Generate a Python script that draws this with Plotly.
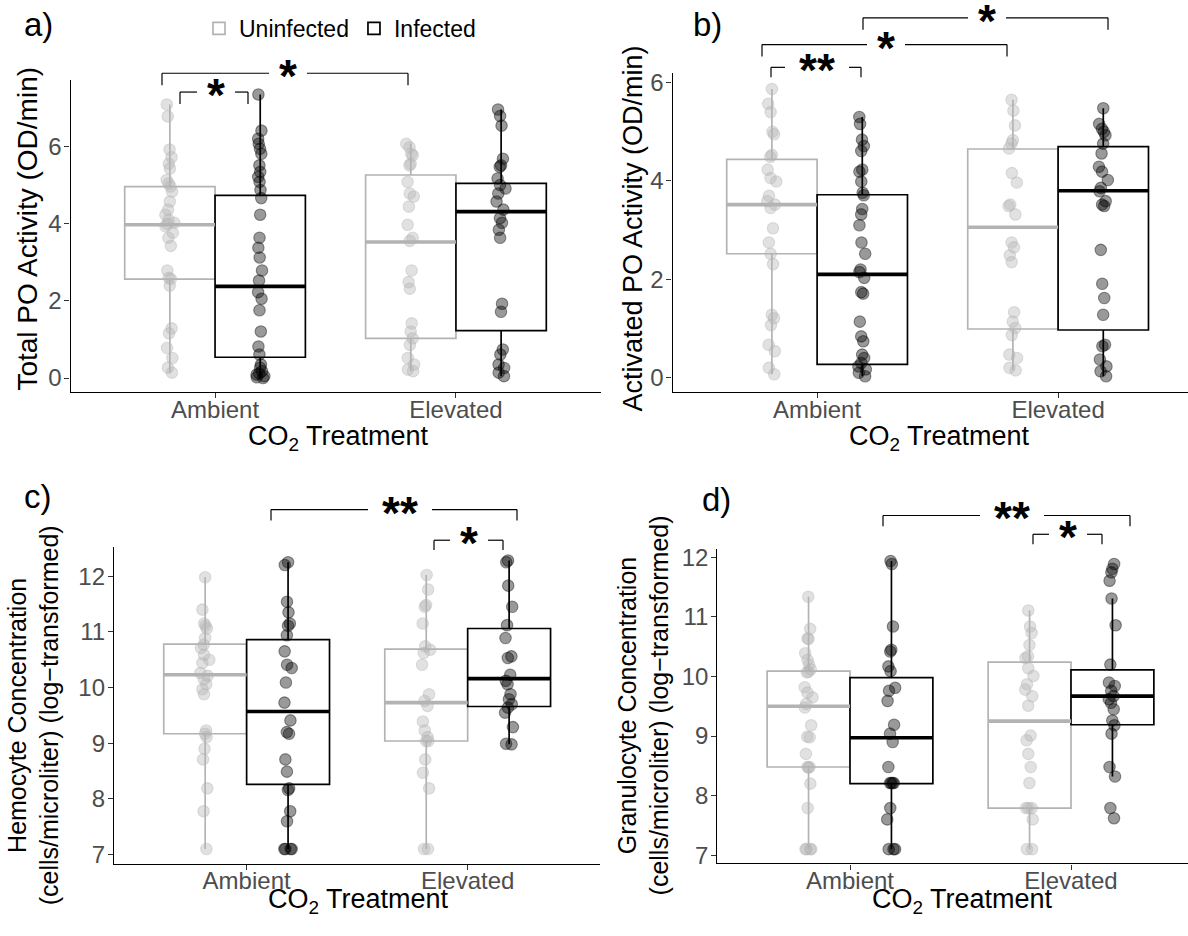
import plotly.graph_objects as go

W, H = 1188, 936
FONT = "Liberation Sans, Arial, Helvetica, sans-serif"

categories = ["Ambient", "Elevated"]
groups = ["Uninfected", "Infected"]

# ---------------- Panel a: Total PO Activity ----------------
a_amb_uninf = [7.10, 6.79, 5.93, 5.73, 5.56, 5.44, 5.14, 5.05, 4.97, 4.84, 4.58, 4.37, 4.24, 4.11,
               4.03, 4.00, 3.94, 3.77, 3.64, 3.43, 2.79, 2.60, 2.57, 2.40, 1.29, 1.16, 0.78, 0.52, 0.27, 0.14]
a_amb_inf = [7.36, 6.42, 6.21, 6.08, 5.95, 5.82, 5.52, 5.35, 5.22, 5.09, 4.88, 4.67, 4.24, 3.64, 3.38,
             3.13, 2.79, 2.53, 2.23, 2.06, 1.76, 1.21, 0.82, 0.61, 0.35, 0.27, 0.18, 0.12, 0.09, 0.05, 0.02, 0.0]
a_elev_uninf = [6.08, 5.99, 5.82, 5.78, 5.56, 5.52, 5.09, 4.79, 4.71, 4.45, 3.98, 3.64, 3.56, 2.79, 2.49,
                2.32, 1.42, 1.21, 1.03, 0.86, 0.52, 0.35, 0.22, 0.18]
a_elev_inf = [6.97, 6.80, 6.55, 5.69, 5.52, 5.48, 5.18, 5.01, 4.92, 4.79, 4.58, 4.37, 4.15, 4.03, 3.85,
              3.64, 1.93, 1.72, 0.74, 0.61, 0.35, 0.26, 0.14, 0.05]
# box stats in order: amb-uninf, amb-inf, elev-uninf, elev-inf
a_low = [0.14, 0.00, 0.18, 0.05]
a_q1 = [2.57, 0.54, 1.03, 1.23]
a_med = [3.98, 2.38, 3.53, 4.32]
a_q3 = [4.97, 4.74, 5.27, 5.05]
a_high = [7.10, 7.36, 6.08, 6.97]

# ---------------- Panel b: Activated PO Activity ----------------
b_amb_uninf = [5.87, 5.57, 5.40, 5.00, 4.95, 4.53, 4.49, 4.23, 4.06, 3.99, 3.70, 3.59, 3.52, 3.45, 3.04,
               2.75, 2.52, 2.31, 1.28, 1.21, 1.07, 0.67, 0.54, 0.20, 0.07]
b_amb_inf = [5.30, 5.16, 4.84, 4.71, 4.61, 4.23, 4.19, 3.99, 3.76, 3.71, 3.43, 3.32, 3.10, 2.75, 2.52,
             2.20, 2.15, 2.03, 1.74, 1.71, 1.14, 0.84, 0.74, 0.47, 0.40, 0.30, 0.23, 0.17, 0.10, 0.03]
b_elev_uninf = [5.65, 5.43, 5.13, 4.83, 4.76, 4.66, 4.16, 3.97, 3.52, 3.49, 3.32, 2.75, 2.65, 2.49, 2.35,
                1.33, 1.14, 1.01, 0.87, 0.47, 0.40, 0.20, 0.15]
b_elev_inf = [5.48, 5.16, 5.06, 5.00, 4.93, 4.76, 4.56, 4.29, 4.19, 4.02, 3.86, 3.79, 3.59, 3.52, 3.49,
              2.60, 1.91, 1.62, 1.28, 0.67, 0.64, 0.37, 0.23, 0.13, 0.03]
b_low = [0.07, 0.03, 0.15, 0.03]
b_q1 = [2.52, 0.27, 0.99, 0.97]
b_med = [3.52, 2.10, 3.06, 3.80]
b_q3 = [4.44, 3.72, 4.65, 4.70]
b_high = [5.87, 5.30, 5.65, 5.48]

# ---------------- Panel c: Hemocyte Concentration ----------------
c_amb_uninf = [11.98, 11.40, 11.15, 11.11, 11.06, 10.89, 10.77, 10.71, 10.59, 10.50, 10.44, 10.26, 10.21,
               10.15, 10.06, 9.97, 9.88, 9.23, 9.17, 9.11, 8.90, 8.71, 8.19, 7.78, 7.10]
c_amb_inf = [12.25, 12.20, 11.54, 11.35, 11.15, 11.11, 10.94, 10.65, 10.41, 10.35, 10.09, 9.73, 9.41,
             9.20, 9.17, 8.71, 8.49, 8.19, 8.16, 7.78, 7.60, 7.10, 7.10, 7.10, 7.10]
c_elev_uninf = [12.02, 11.76, 11.48, 11.45, 11.15, 10.74, 10.68, 10.62, 10.41, 9.88, 9.76, 9.67, 9.39,
                9.23, 9.11, 9.04, 9.04, 8.71, 8.47, 8.19, 7.10, 7.10]
c_elev_inf = [12.28, 12.25, 11.83, 11.45, 11.12, 10.89, 10.56, 10.53, 10.23, 10.12, 10.06, 9.88, 9.79,
              9.70, 9.64, 9.55, 9.29, 8.99, 8.98]
c_low = [7.10, 7.10, 7.10, 8.98]
c_q1 = [9.17, 8.26, 9.04, 9.66]
c_med = [10.23, 9.57, 9.73, 10.16]
c_q3 = [10.78, 10.86, 10.69, 11.06]
c_high = [11.98, 12.25, 12.02, 12.28]

# ---------------- Panel d: Granulocyte Concentration ----------------
d_amb_uninf = [11.34, 10.80, 10.64, 10.63, 10.39, 10.28, 10.20, 10.12, 10.08, 10.07, 9.82, 9.73, 9.65,
               9.54, 9.48, 9.18, 8.99, 8.98, 8.70, 8.48, 8.48, 8.47, 8.20, 7.79, 7.10, 7.10, 7.10, 7.10]
d_amb_inf = [11.94, 11.89, 10.84, 10.45, 10.42, 10.17, 10.09, 9.81, 9.76, 9.59, 9.19, 9.04, 8.90, 8.48,
             8.21, 8.21, 8.21, 8.21, 7.79, 7.60, 7.10, 7.10, 7.10]
d_elev_uninf = [11.11, 10.84, 10.73, 10.53, 10.34, 10.31, 10.14, 10.01, 9.87, 9.78, 9.67, 9.51, 9.01,
                8.93, 8.70, 8.48, 8.21, 7.79, 7.79, 7.79, 7.60, 7.10, 7.10]
d_elev_inf = [11.89, 11.81, 11.75, 11.61, 11.31, 10.86, 10.20, 9.90, 9.84, 9.76, 9.67, 9.62, 9.56, 9.45,
              9.26, 9.18, 9.04, 8.48, 8.32, 7.79, 7.62]
d_low = [7.10, 7.10, 7.10, 8.32]
d_q1 = [8.48, 8.20, 7.79, 9.19]
d_med = [9.50, 8.97, 9.25, 9.67]
d_q3 = [10.09, 9.98, 10.24, 10.11]
d_high = [11.34, 11.94, 11.11, 11.31]

y_titles = ["Total PO Activity (OD/min)",
            "Activated PO Activity (OD/min)",
            "Hemocyte Concentration<br>(cells/microliter) (log−transformed)",
            "Granulocyte Concentration<br>(cells/microliter) (log−transformed)"]
panel_tags = ["a)", "b)", "c)", "d)"]
y_ticks_ab = [0, 2, 4, 6]
y_ticks_cd = [7, 8, 9, 10, 11, 12]

# ---------------- styling ----------------
BOX_W = 0.375
DODGE = 0.1875
line_col = {"Uninfected": "rgb(179,179,179)", "Infected": "black"}
pt_fill = {"Uninfected": "rgba(179,179,179,0.4)", "Infected": "rgba(0,0,0,0.4)"}


def fx(p):
    return p / W


def fy(p):
    return 1 - p / H


panels = [
    dict(n="", px=(70.5, 600.5), py=(76, 391.5), xr=[0.4, 2.6], yr=[-0.37, 7.73], ticks=y_ticks_ab,
         pts=[a_amb_uninf, a_amb_inf, a_elev_uninf, a_elev_inf],
         st=(a_low, a_q1, a_med, a_q3, a_high)),
    dict(n="2", px=(672.5, 1188), py=(69, 391.4), xr=[0.4, 0.4 + (1188 - 672.5) / 241], yr=[-0.295, 6.19],
         ticks=y_ticks_ab,
         pts=[b_amb_uninf, b_amb_inf, b_elev_uninf, b_elev_inf],
         st=(b_low, b_q1, b_med, b_q3, b_high)),
    dict(n="3", px=(114, 600.3), py=(547.5, 867.8), xr=[0.4, 2.6], yr=[6.84, 12.53], ticks=y_ticks_cd,
         pts=[c_amb_uninf, c_amb_inf, c_elev_uninf, c_elev_inf],
         st=(c_low, c_q1, c_med, c_q3, c_high)),
    dict(n="4", px=(717.4, 1188), py=(550, 867.7), xr=[0.4, 0.4 + (1188 - 717.4) / 221], yr=[6.86, 12.14],
         ticks=y_ticks_cd,
         pts=[d_amb_uninf, d_amb_inf, d_elev_uninf, d_elev_inf],
         st=(d_low, d_q1, d_med, d_q3, d_high)),
]

fig = go.Figure()
layout_axes = {}

for pi, P in enumerate(panels):
    xa, ya = "x" + P["n"], "y" + P["n"]
    combos = [(ci, g) for ci in range(len(categories)) for g in groups]
    positions = [ci + 1 + (-DODGE if g == "Uninfected" else DODGE) for ci, g in combos]
    low, q1, med, q3, high = P["st"]
    # boxes
    for k, (ci, g) in enumerate(combos):
        fig.add_trace(go.Box(
            x=[positions[k]], q1=[q1[k]], median=[med[k]], q3=[q3[k]],
            lowerfence=[low[k]], upperfence=[high[k]], width=BOX_W,
            line=dict(color=line_col[g], width=1.7), fillcolor="white", whiskerwidth=0,
            boxpoints=False, name=g, legendgroup=g,
            showlegend=(pi == 0 and ci == 0), xaxis=xa, yaxis=ya, hoverinfo="skip"))
    # thick medians
    for k, (ci, g) in enumerate(combos):
        fig.add_trace(go.Box(
            x=[positions[k]], q1=[med[k]], median=[med[k]], q3=[med[k]],
            lowerfence=[med[k]], upperfence=[med[k]], width=BOX_W,
            line=dict(color=line_col[g], width=3.6), fillcolor="rgba(0,0,0,0)", whiskerwidth=0,
            boxpoints=False, showlegend=False, xaxis=xa, yaxis=ya, hoverinfo="skip"))
    # points
    for k, (ci, g) in enumerate(combos):
        vals = P["pts"][k]
        fig.add_trace(go.Box(
            x=[positions[k]] * len(vals), y=vals, width=BOX_W, boxpoints="all", jitter=0.12,
            pointpos=0, line=dict(width=0, color="rgba(0,0,0,0)"), fillcolor="rgba(0,0,0,0)",
            marker=dict(size=11.5, color=pt_fill[g], line=dict(width=1.1, color=pt_fill[g])),
            showlegend=False, xaxis=xa, yaxis=ya, hoverinfo="skip"))

    common = dict(showline=True, linecolor="black", linewidth=1.3, ticks="outside", ticklen=5,
                  tickwidth=1.2, tickcolor="#333333", showgrid=False, zeroline=False,
                  tickfont=dict(family=FONT, size=24, color="#4d4d4d"))
    layout_axes["xaxis" + P["n"]] = dict(
        domain=[fx(P["px"][0]), fx(P["px"][1])], range=P["xr"], anchor=ya,
        tickvals=[1, 2], ticktext=categories, ticklabelstandoff=-9, **common)
    layout_axes["yaxis" + P["n"]] = dict(
        domain=[fy(P["py"][1]), fy(P["py"][0])], range=P["yr"], anchor=xa,
        tickvals=P["ticks"], ticklabelstandoff=-2, **common)

fig.update_layout(**layout_axes)

annotations = []
shapes = []

# panel tags
for tag, (x, y) in zip(panel_tags, [(38, 20), (707, 20), (38, 497), (716, 500)]):
    annotations.append(dict(text=tag, x=fx(x), y=fy(y), xref="paper", yref="paper",
                            showarrow=False, font=dict(family=FONT, size=33, color="black"),
                            xanchor="center", yanchor="middle"))

# y titles
for t, (x, y), s in zip(y_titles, [(28, 226), (633, 226), (33, 718), (643, 708)], [28, 27, 25, 25]):
    annotations.append(dict(text=t, x=fx(x), y=fy(y), xref="paper", yref="paper", textangle=-90,
                            showarrow=False, font=dict(family=FONT, size=s, color="black"),
                            xanchor="center", yanchor="middle"))

# x titles
for (x, y) in [(338, 438), (940, 438), (358, 906), (962, 906)]:
    annotations.append(dict(text="CO<sub>2</sub> Treatment", x=fx(x), y=fy(y), xref="paper",
                            yref="paper", showarrow=False,
                            font=dict(family=FONT, size=27, color="black"),
                            xanchor="center", yanchor="middle"))

# significance brackets: (x_left, x_right, y_top, y_bottom, label, label_x)
brackets = [
    (162, 408, 69, 81, "*", 288),
    (180, 248, 88, 100, "*", 216),
    (863, 1108, 13, 25, "*", 987),
    (762, 1007, 40, 52, "*", 886),
    (771, 861, 63, 73, "**", 817),
    (271, 517, 510, 521, "**", 400),
    (434, 503, 541, 551, "*", 469),
    (883, 1130, 516, 527, "**", 1012),
    (1033, 1102, 535, 545, "*", 1068),
]
for xl, xr, yt, yb, lab, lx in brackets:
    half = 13 * len(lab) + 6
    segs = [(xl, yb, xl, yt), (xl, yt, lx - half, yt), (lx + half, yt, xr, yt), (xr, yt, xr, yb)]
    for x0, y0, x1, y1 in segs:
        shapes.append(dict(type="line", xref="paper", yref="paper", x0=fx(x0), y0=fy(y0),
                           x1=fx(x1), y1=fy(y1), line=dict(color="black", width=1.2)))
    annotations.append(dict(text="<b>" + lab + "</b>", x=fx(lx), y=fy(yt + 3), xref="paper",
                            yref="paper", showarrow=False,
                            font=dict(family=FONT, size=46, color="black"),
                            xanchor="center", yanchor="middle"))

fig.update_layout(
    width=W, height=H, margin=dict(l=0, r=0, t=0, b=0),
    paper_bgcolor="white", plot_bgcolor="white",
    boxmode="overlay", annotations=annotations, shapes=shapes,
    font=dict(family=FONT, color="black"),
    legend=dict(orientation="h", x=fx(340), xanchor="center", y=fy(2), yanchor="top",
                font=dict(family=FONT, size=23, color="black"), bgcolor="rgba(0,0,0,0)"),
)

fig.write_html("out.html")
